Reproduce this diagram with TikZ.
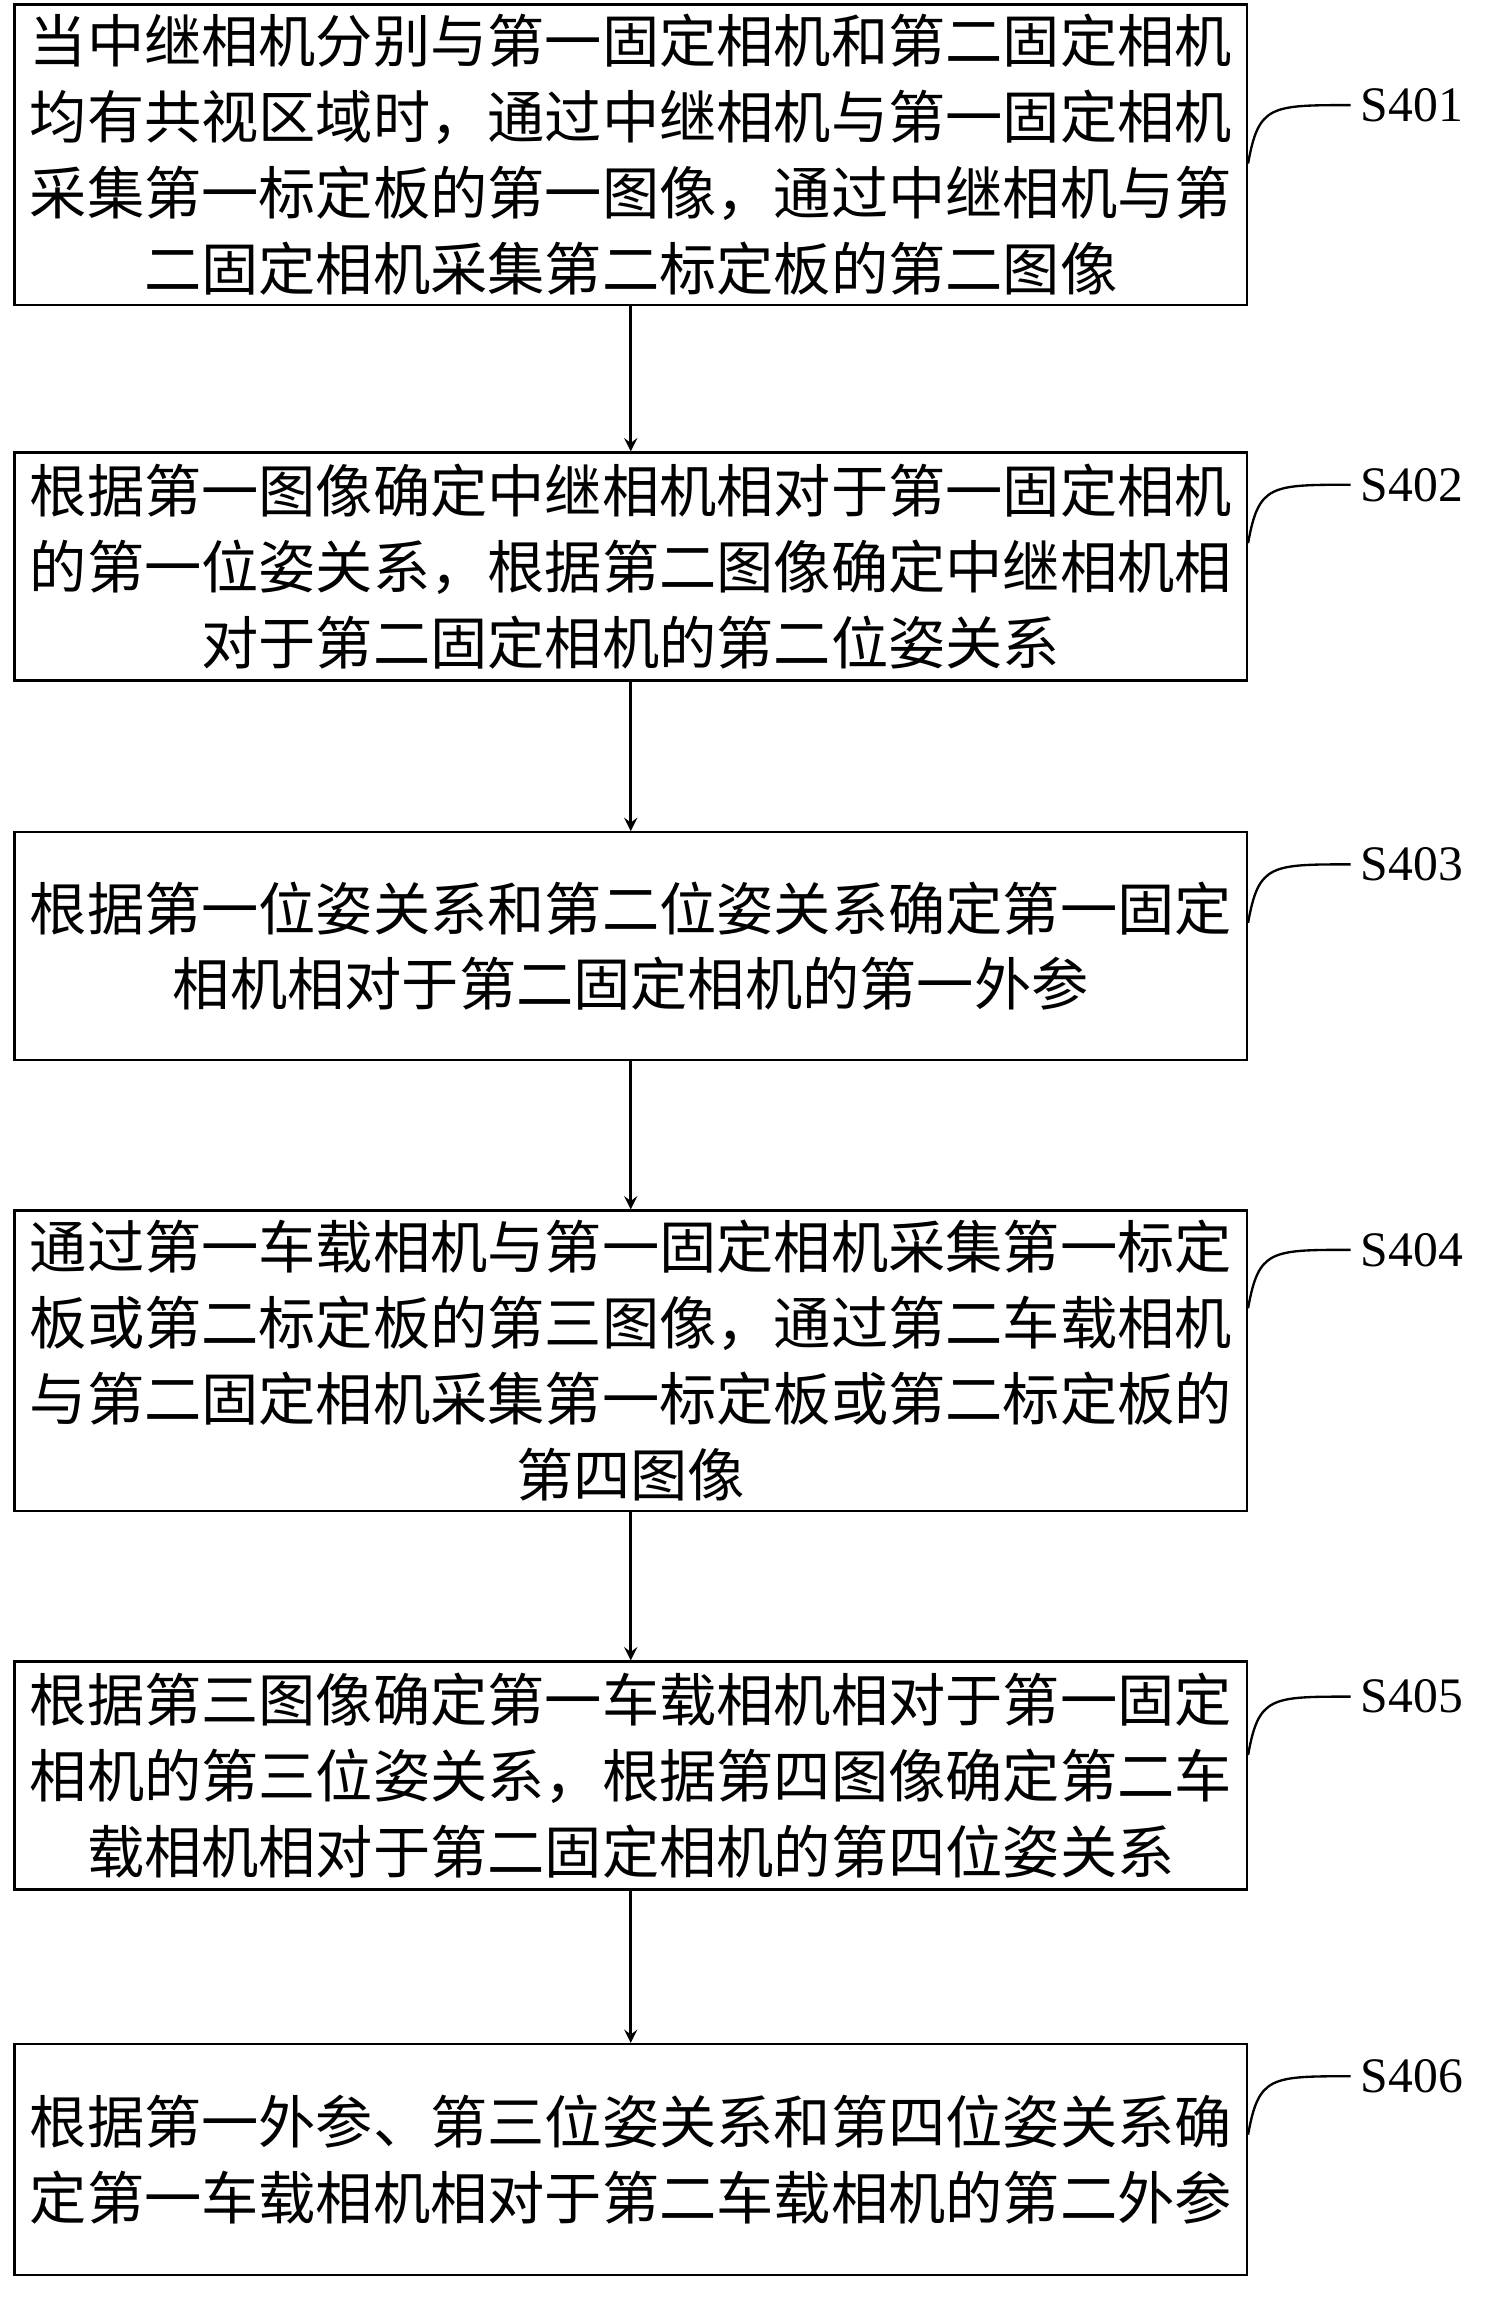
\documentclass[tikz,border=0pt]{standalone}
\usepackage{fontspec}
\setmainfont{Liberation Serif}
\newfontfamily\cjk{Noto Sans CJK SC}
\usetikzlibrary{positioning}
\tikzset{
  stepbox/.style={draw=black,line width=0.8pt,minimum width=422pt,inner xsep=2pt,align=center,font=\cjk\fontsize{19.6}{26}\selectfont},
  flow/.style={->,line width=1pt,>=stealth},
  tag/.style={font=\fontsize{17}{20}\selectfont},
}
\begin{document}
\begin{tikzpicture}[x=0.5pt,y=-0.5pt]
    \useasboundingbox (0,0) rectangle (1024,1578);
    \node[stepbox,minimum height=101pt] (s1) at (432,106) {当中继相机分别与第一固定相机和第二固定相机\\均有共视区域时，通过中继相机与第一固定相机\\采集第一标定板的第一图像，通过中继相机与第\\二固定相机采集第二标定板的第二图像};
    \node[stepbox,minimum height=78pt] (s2) at (432,388) {根据第一图像确定中继相机相对于第一固定相机\\的第一位姿关系，根据第二图像确定中继相机相\\对于第二固定相机的第二位姿关系};
    \node[stepbox,minimum height=78pt] (s3) at (432,648) {根据第一位姿关系和第二位姿关系确定第一固定\\相机相对于第二固定相机的第一外参};
    \node[stepbox,minimum height=102pt] (s4) at (432,932) {通过第一车载相机与第一固定相机采集第一标定\\板或第二标定板的第三图像，通过第二车载相机\\与第二固定相机采集第一标定板或第二标定板的\\第四图像};
    \node[stepbox,minimum height=78pt] (s5) at (432,1216) {根据第三图像确定第一车载相机相对于第一固定\\相机的第三位姿关系，根据第四图像确定第二车\\载相机相对于第二固定相机的第四位姿关系};
    \node[stepbox,minimum height=79pt] (s6) at (432,1479) {根据第一外参、第三位姿关系和第四位姿关系确\\定第一车载相机相对于第二车载相机的第二外参};
    \draw[flow] (s1) -- (s2);
    \draw[flow] (s2) -- (s3);
    \draw[flow] (s3) -- (s4);
    \draw[flow] (s4) -- (s5);
    \draw[flow] (s5) -- (s6);
    % step labels
    \foreach \n/\y in {1/72,2/332,3/592,4/856,5/1162,6/1422}{
        \node[tag,anchor=west] (l\n) at (925,\y) {S40\n};
        \draw[line width=0.8pt] (s\n.east|-0,\y+40) .. controls (862,\y) and (870,\y) .. (l\n.west);
    }
\end{tikzpicture}
\end{document}
